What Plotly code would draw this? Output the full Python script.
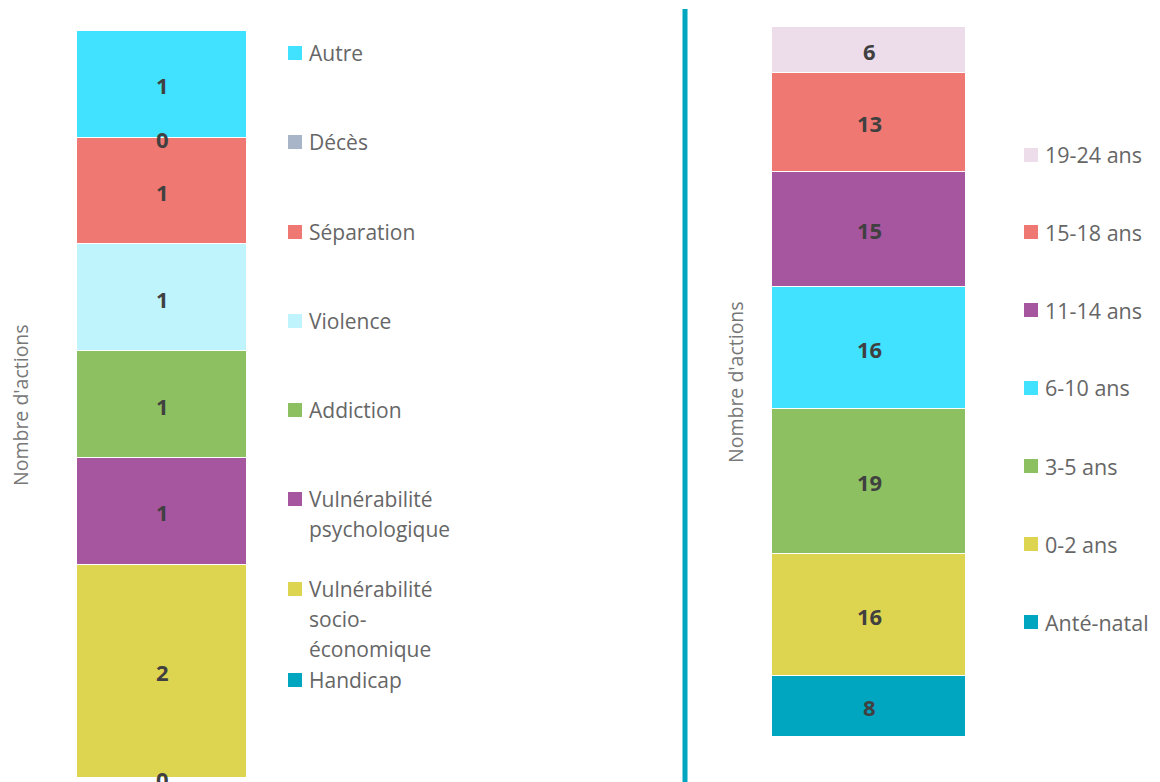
import plotly.graph_objs as go
import numpy as np

# left chart: causes (bottom -> top)
cause_names = ['Handicap', 'Vulnérabilité socio-économique', 'Vulnérabilité psychologique',
               'Addiction', 'Violence', 'Séparation', 'Décès', 'Autre']
cause_values = [0, 2, 1, 1, 1, 1, 0, 1]
cause_colors = ['#00A6C0', '#DDD450', '#A6569E', '#8DC060', '#C0F4FD', '#EF7872', '#A8B4C8', '#40E2FF']
cause_legend_lines = [['Handicap'], ['Vulnérabilité', 'socio-', 'économique'],
                      ['Vulnérabilité', 'psychologique'], ['Addiction'], ['Violence'],
                      ['Séparation'], ['Décès'], ['Autre']]

# right chart: age groups (bottom -> top)
age_names = ['Anté-natal', '0-2 ans', '3-5 ans', '6-10 ans', '11-14 ans', '15-18 ans', '19-24 ans']
age_values = [8, 16, 19, 16, 15, 13, 6]
age_colors = ['#00A6C0', '#DDD450', '#8DC060', '#40E2FF', '#A6569E', '#EF7872', '#EDDDEB']

W, H = 1160, 782
OFF = 8  # page body margin
FONT = 'Open Sans, Noto Sans, sans-serif'
LABEL_COLOR = '#404040'
LEGEND_COLOR = '#666666'


def px_x(x):
    return (x - OFF) / W


def px_y(y):
    return 1 - (y - OFF) / H


data = []

for name, val, col in zip(cause_names, cause_values, cause_colors):
    data.append(go.Bar(
        x=['c'], y=[val], name=name, xaxis='x', yaxis='y',
        marker=dict(color=col, line=dict(color='white', width=1)),
        showlegend=False, hoverinfo='name+y'
    ))

for name, val, col in zip(age_names, age_values, age_colors):
    data.append(go.Bar(
        x=['a'], y=[val], name=name, xaxis='x2', yaxis='y2',
        marker=dict(color=col, line=dict(color='white', width=1)),
        showlegend=False, hoverinfo='name+y'
    ))

annotations = []
shapes = []

# data labels at segment middles
for vals, xcat, xr, yr in [(cause_values, 'c', 'x', 'y'), (age_values, 'a', 'x2', 'y2')]:
    v = np.array(vals, dtype=float)
    mids = np.cumsum(v) - v / 2
    for val, m in zip(vals, mids):
        annotations.append(dict(text='<b>%d</b>' % val, xref=xr, yref=yr, x=xcat, y=m,
                                yshift=-1, showarrow=False, xanchor='center', yanchor='middle',
                                font=dict(family=FONT, size=22, color=LABEL_COLOR)))

# left legend (top -> bottom)
left_leg_y = [53, 142, 232, 321, 410, 499, 589, 680]
for lines, col, y in zip(cause_legend_lines[::-1], cause_colors[::-1], left_leg_y):
    shapes.append(dict(type='rect', xref='paper', yref='paper',
                       x0=px_x(288), x1=px_x(302), y0=px_y(y - 7), y1=px_y(y + 7),
                       fillcolor=col, line=dict(width=0)))
    for i, line in enumerate(lines):
        annotations.append(dict(text=line, xref='paper', yref='paper',
                                x=px_x(307), y=px_y(y + 30 * i), xanchor='left', yanchor='middle',
                                showarrow=False, font=dict(family=FONT, size=21, color=LEGEND_COLOR)))

# right legend (top -> bottom)
right_leg_y = [155, 232, 310, 388, 466, 544, 622]
for name, col, y in zip(age_names[::-1], age_colors[::-1], right_leg_y):
    shapes.append(dict(type='rect', xref='paper', yref='paper',
                       x0=px_x(1024), x1=px_x(1038), y0=px_y(y - 7), y1=px_y(y + 7),
                       fillcolor=col, line=dict(width=0)))
    annotations.append(dict(text=name, xref='paper', yref='paper',
                            x=px_x(1043), y=px_y(y), xanchor='left', yanchor='middle',
                            showarrow=False, font=dict(family=FONT, size=21.5, color=LEGEND_COLOR)))

# axis titles
for xp, yp in [(20, 405), (735, 382)]:
    annotations.append(dict(text="Nombre d'actions", xref='paper', yref='paper',
                            x=px_x(xp), y=px_y(yp), textangle=-90, showarrow=False,
                            xanchor='center', yanchor='middle',
                            font=dict(family=FONT, size=19.5, color='#777777')))

# separator
shapes.append(dict(type='line', xref='paper', yref='paper',
                   x0=px_x(685), x1=px_x(685), y0=px_y(9), y1=px_y(790),
                   line=dict(color='#00A6C0', width=5)))

layout = go.Layout(
    width=W,
    height=H,
    margin=dict(l=0, r=0, t=0, b=0),
    barmode='stack',
    bargap=0,
    plot_bgcolor='white',
    paper_bgcolor='white',
    hovermode='closest',
    xaxis=dict(domain=[px_x(77), px_x(247)], visible=False, anchor='y'),
    yaxis=dict(domain=[px_y(778), px_y(31)], range=[0, sum(cause_values)], visible=False, anchor='x'),
    xaxis2=dict(domain=[px_x(772), px_x(966)], visible=False, anchor='y2'),
    yaxis2=dict(domain=[px_y(737), px_y(27)], range=[0, sum(age_values)], visible=False, anchor='x2'),
    annotations=annotations,
    shapes=shapes,
)

fig = go.Figure(data=data, layout=layout)
fig.write_html("out.html")
